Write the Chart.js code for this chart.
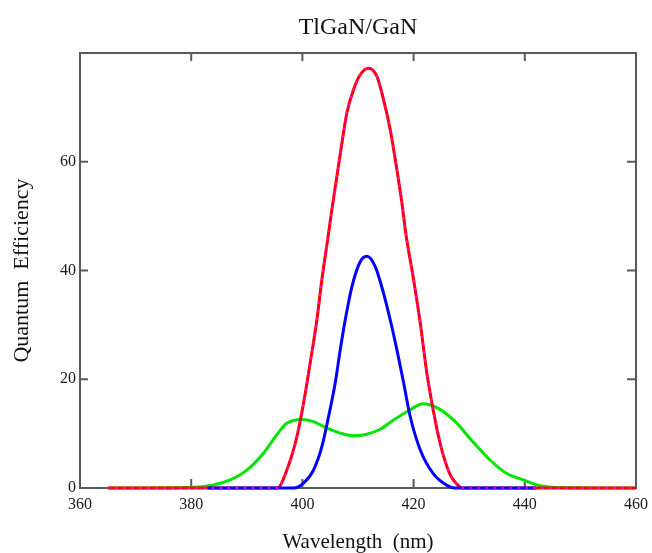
<!DOCTYPE html>
<html>
<head>
<meta charset="utf-8">
<script src="https://cdn.jsdelivr.net/npm/chart.js@4"></script>
<style>
  body { margin: 0; background: #fff; }
</style>
</head>
<body>
<canvas id="qeChart" width="652" height="553"></canvas>
<script>
// Datos (longitud de onda en nm, eficiencia cuántica)
const redWl = [365, 380, 395.5, 397.2, 399.0, 400.2, 401.4, 402.6, 403.5, 404.7, 405.3, 406.2, 407.1, 408.0, 409.2, 410.4, 411.9, 413.4, 414.6, 415.8, 417.0, 417.9, 418.6, 420.0, 421.2, 422.4, 423.5, 424.7, 425.7, 426.7, 427.8, 428.8, 440, 460];
const redQE = [0, 0, 0, 3.3, 9.4, 15.6, 23.0, 30.9, 38.3, 46.8, 51.2, 57.3, 63.4, 69.0, 73.3, 76.0, 77.2, 75.7, 71.4, 65.9, 58.5, 52.4, 46.8, 38.3, 30.3, 21.0, 14.5, 8.5, 4.8, 2.2, 0.7, 0, 0, 0];

const blueWl = [383, 398.4, 400.2, 402.0, 403.5, 404.7, 405.9, 406.8, 407.7, 408.9, 410.4, 411.6, 413.1, 414.6, 415.8, 417.0, 418.1, 419.4, 421.2, 423.5, 425.9, 427.4, 442];
const blueQE = [0, 0, 0.9, 3.3, 7.6, 13.1, 19.3, 25.4, 30.9, 37.0, 41.6, 42.6, 40.7, 35.8, 30.9, 25.4, 19.9, 13.1, 7.0, 2.7, 0.55, 0, 0];

const greenWl = [365, 379.8, 384.0, 387.0, 390.0, 393.0, 395.4, 397.2, 399.9, 402.0, 404.4, 406.8, 409.2, 411.6, 414.0, 416.4, 419.4, 421.7, 424.5, 427.5, 430.4, 433.7, 436.7, 439.7, 442.7, 445.7, 460];
const greenQE = [0, 0.1, 0.55, 1.5, 3.3, 6.4, 9.8, 11.9, 12.6, 12.2, 11.0, 10.1, 9.6, 9.9, 10.8, 12.5, 14.4, 15.5, 14.6, 12.2, 8.8, 5.2, 2.7, 1.5, 0.4, 0.1, 0];

const xTicks = [360, 380, 400, 420, 440, 460];
const yTicks = [0, 20, 40, 60];

function toPoints(xs, ys) {
    return xs.map((x, i) => ({ x: x, y: ys[i] }));
}

const serif = "'Liberation Serif', 'Times New Roman', serif";

// Marco y marcas hacia adentro, como en el original
const framePlugin = {
    id: 'frame',
    beforeDatasetsDraw(chart) {
        const { ctx, chartArea: a, scales } = chart;
        ctx.save();
        ctx.strokeStyle = '#5a5a5a';
        ctx.lineWidth = 2;
        ctx.strokeRect(a.left, a.top, a.right - a.left, a.bottom - a.top);
        ctx.beginPath();
        xTicks.slice(1, -1).forEach(v => {
            const px = scales.x.getPixelForValue(v);
            ctx.moveTo(px, a.bottom); ctx.lineTo(px, a.bottom - 9);
            ctx.moveTo(px, a.top); ctx.lineTo(px, a.top + 8);
        });
        yTicks.slice(1).forEach(v => {
            const py = scales.y.getPixelForValue(v);
            ctx.moveTo(a.left, py); ctx.lineTo(a.left + 8, py);
            ctx.moveTo(a.right, py); ctx.lineTo(a.right - 9, py);
        });
        ctx.stroke();
        ctx.restore();
    }
};

const ctx = document.getElementById('qeChart').getContext('2d');
const qeChart = new Chart(ctx, {
    type: 'line',
    data: {
        datasets: [
            {
                label: 'dots',
                data: toPoints(redWl, redQE),
                borderColor: '#ff00ff',
                borderWidth: 2,
                borderDash: [2, 6],
                pointRadius: 0,
                cubicInterpolationMode: 'monotone',
                clip: false
            },
            {
                label: 'blue',
                data: toPoints(blueWl, blueQE),
                borderColor: '#0000ff',
                borderWidth: 3,
                pointRadius: 0,
                cubicInterpolationMode: 'monotone',
                clip: false
            },
            {
                label: 'red',
                data: toPoints(redWl, redQE),
                borderColor: '#ff0000',
                borderWidth: 3,
                pointRadius: 0,
                cubicInterpolationMode: 'monotone',
                clip: false
            },
            {
                label: 'green',
                data: toPoints(greenWl, greenQE),
                borderColor: '#00e600',
                borderWidth: 3,
                pointRadius: 0,
                cubicInterpolationMode: 'monotone',
                clip: false
            }
        ]
    },
    options: {
        responsive: false,
        animation: false,
        layout: { padding: { left: 0, right: 16, top: 0, bottom: 0 } },
        plugins: {
            legend: { display: false },
            tooltip: { enabled: false },
            title: { display: false }
        },
        scales: {
            x: {
                type: 'linear',
                min: 360,
                max: 460,
                grid: { display: false, drawTicks: false },
                border: { display: false },
                ticks: {
                    stepSize: 20,
                    padding: 7,
                    color: '#1a1a1a',
                    font: { family: serif, size: 16 },
                    maxRotation: 0
                },
                title: {
                    display: true,
                    text: 'Wavelength  (nm)',
                    color: '#111',
                    font: { family: serif, size: 21, lineHeight: 1 },
                    padding: { top: 0, bottom: 0 }
                },
                afterFit: s => { s.height = 65; s.paddingLeft = 0; s.paddingRight = 0; }
            },
            // eje superior solo para el título, centrado sobre el área del gráfico
            xTop: {
                type: 'linear',
                position: 'top',
                min: 360,
                max: 460,
                grid: { display: false, drawTicks: false },
                border: { display: false },
                ticks: { display: false },
                title: {
                    display: true,
                    text: 'TlGaN/GaN',
                    color: '#111',
                    font: { family: serif, size: 24, lineHeight: 1 },
                    padding: { top: 16, bottom: 0 }
                },
                afterFit: s => { s.height = 53; s.paddingLeft = 0; s.paddingRight = 0; }
            },
            y: {
                min: 0,
                max: 80,
                grid: { display: false, drawTicks: false },
                border: { display: false },
                ticks: {
                    stepSize: 20,
                    padding: 4,
                    color: '#1a1a1a',
                    font: { family: serif, size: 16 },
                    callback: v => (v === 80 ? '' : v)
                },
                title: {
                    display: true,
                    text: 'Quantum  Efficiency',
                    color: '#111',
                    font: { family: serif, size: 22, lineHeight: 1 },
                    padding: { top: 11, bottom: 0 }
                },
                afterFit: s => { s.width = 80; }
            }
        }
    },
    plugins: [framePlugin]
});
</script>
</body>
</html>
